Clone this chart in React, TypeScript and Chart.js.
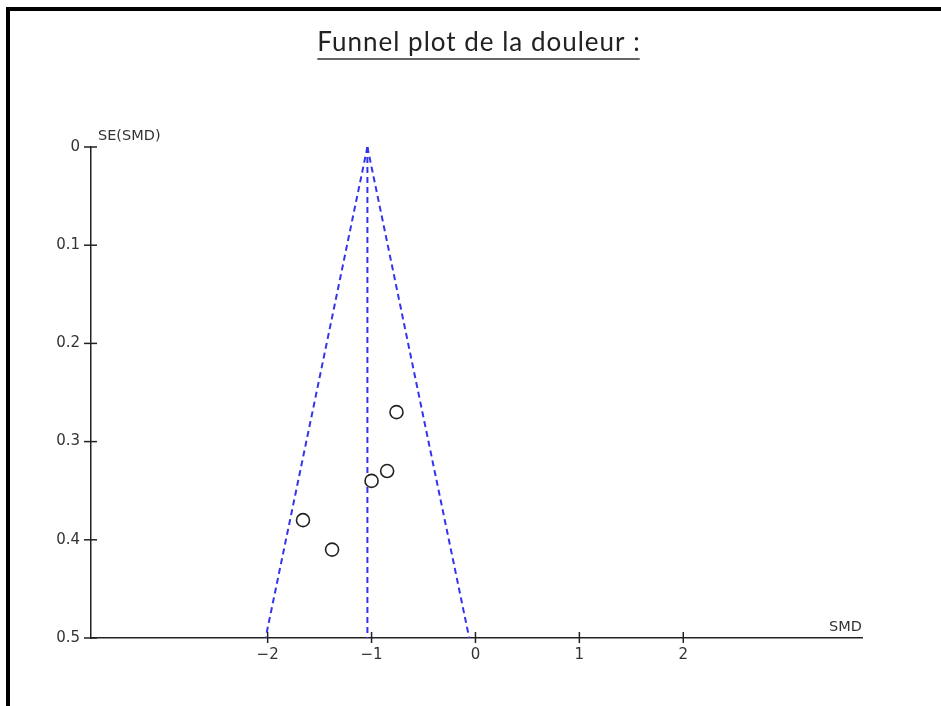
import React, { useEffect, useRef } from "react";
import { Chart, registerables } from "chart.js";

Chart.register(...registerables);

// ---- data ----
const studySmd = [-0.76, -0.85, -1.0, -1.66, -1.38];
const studySe = [0.27, 0.33, 0.34, 0.38, 0.41];
const funnelSe = [0, 0.5];
const pooledLine = [-1.04, -1.04];
const lowerLimit = [-1.04, -2.02];
const upperLimit = [-1.04, -0.06];
const xTickValues = [-2, -1, 0, 1, 2];
const xTickLabels = ["\u22122", "\u22121", "0", "1", "2"];
const yTickValues = [0, 0.1, 0.2, 0.3, 0.4, 0.5];
const yTickLabels = ["0", "0.1", "0.2", "0.3", "0.4", "0.5"];
const chartTitle = "Funnel plot de la douleur :";
const xAxisTitle = "SMD";
const yAxisTitle = "SE(SMD)";

const W = 941;
const H = 706;

export default function App() {
  const ref = useRef<HTMLCanvasElement | null>(null);

  useEffect(() => {
    if (!ref.current) return;
    const blue = "#3434ee";
    const lineDs = (xs: number[]) => ({
      type: "scatter" as const,
      data: xs.map((x, i) => ({ x, y: funnelSe[i] })),
      showLine: true,
      borderColor: blue,
      borderWidth: 2,
      borderDash: [6, 4],
      pointRadius: 0,
      fill: false,
      order: 2,
    });

    const decor = {
      id: "decor",
      afterDraw(chart: any) {
        const ctx = chart.ctx;
        const xs = chart.scales.x;
        const ys = chart.scales.y;
        const { left, top, bottom, right } = chart.chartArea;
        ctx.save();
        // tick marks
        ctx.strokeStyle = "#222";
        ctx.lineWidth = 1.5;
        xTickValues.forEach((v) => {
          const px = xs.getPixelForValue(v);
          ctx.beginPath();
          ctx.moveTo(px, bottom - 6);
          ctx.lineTo(px, bottom + 5);
          ctx.stroke();
        });
        yTickValues.forEach((v) => {
          const py = ys.getPixelForValue(v);
          ctx.beginPath();
          ctx.moveTo(left - 7, py);
          ctx.lineTo(left + 6, py);
          ctx.stroke();
        });
        // axis titles
        ctx.fillStyle = "#333";
        ctx.font = "14.5px 'DejaVu Sans'";
        ctx.textBaseline = "alphabetic";
        ctx.textAlign = "left";
        ctx.fillText(yAxisTitle, left + 7, top - 7);
        ctx.textAlign = "right";
        ctx.fillText(xAxisTitle, right, bottom - 7);
        // title
        ctx.fillStyle = "#222";
        ctx.font = "26px Lato";
        (ctx as any).letterSpacing = "1px";
        ctx.textAlign = "left";
        const tw = ctx.measureText(chartTitle).width;
        const cx = 479;
        const x0 = cx - tw / 2;
        ctx.fillText(chartTitle, x0, 51);
        (ctx as any).letterSpacing = "0px";
        ctx.strokeStyle = "#333";
        ctx.lineWidth = 1.5;
        ctx.beginPath();
        ctx.moveTo(x0, 59);
        ctx.lineTo(x0 + tw - 1, 59);
        ctx.stroke();
        ctx.restore();
      },
    };

    const chart = new Chart(ref.current, {
      type: "scatter",
      data: {
        datasets: [
          {
            type: "scatter",
            data: studySmd.map((x, i) => ({ x, y: studySe[i] })),
            pointStyle: "circle",
            pointRadius: 6.5,
            pointBorderWidth: 1.6,
            pointBorderColor: "#222",
            pointBackgroundColor: "#ffffff",
            order: 0,
          } as any,
          lineDs(pooledLine),
          lineDs(lowerLimit),
          lineDs(upperLimit),
        ],
      },
      plugins: [decor],
      options: {
        responsive: false,
        animation: false,
        devicePixelRatio: 1,
        layout: { padding: { top: 147, right: 79, left: 0, bottom: 0 } },
        plugins: {
          legend: { display: false },
          tooltip: { enabled: false },
          title: { display: false },
        },
        scales: {
          x: {
            type: "linear",
            position: "bottom",
            min: -3.7,
            max: 3.72,
            afterBuildTicks: (s: any) => {
              s.ticks = xTickValues.map((v) => ({ value: v }));
            },
            afterFit: (s: any) => {
              s.height = H - 638;
            },
            ticks: {
              autoSkip: false,
              maxRotation: 0,
              padding: 8,
              color: "#333",
              font: { family: "'DejaVu Sans'", size: 15 },
              callback: (v: any) => {
                const i = xTickValues.indexOf(Number(v));
                return i >= 0 ? xTickLabels[i] : "";
              },
            },
            grid: { display: true, drawOnChartArea: false, drawTicks: false, color: "#222" },
            border: { display: true, color: "#222", width: 1.5 },
          },
          y: {
            type: "linear",
            position: "left",
            reverse: true,
            min: 0,
            max: 0.5,
            afterBuildTicks: (s: any) => {
              s.ticks = yTickValues.map((v) => ({ value: v }));
            },
            afterFit: (s: any) => {
              s.width = 91;
            },
            ticks: {
              autoSkip: false,
              padding: 11,
              color: "#333",
              font: { family: "'DejaVu Sans'", size: 15 },
              callback: (v: any) => {
                const i = yTickValues.findIndex((t) => Math.abs(t - Number(v)) < 1e-9);
                return i >= 0 ? yTickLabels[i] : "";
              },
            },
            grid: { display: true, drawOnChartArea: false, drawTicks: false, color: "#222" },
            border: { display: true, color: "#222", width: 1.5 },
          },
        },
      },
    } as any);
    return () => chart.destroy();
  }, []);

  return (
    <div
      style={{
        position: "fixed",
        left: 0,
        top: 0,
        width: W,
        height: H,
        overflow: "hidden",
        background: "#fff",
      }}
    >
      <div
        style={{
          position: "absolute",
          left: 6,
          top: 7,
          width: W + 50,
          height: H + 50,
          border: "4px solid #000",
          boxSizing: "border-box",
        }}
      />
      <canvas
        ref={ref}
        width={W}
        height={H}
        style={{ position: "absolute", left: 0, top: 0, width: W, height: H }}
      />
    </div>
  );
}
